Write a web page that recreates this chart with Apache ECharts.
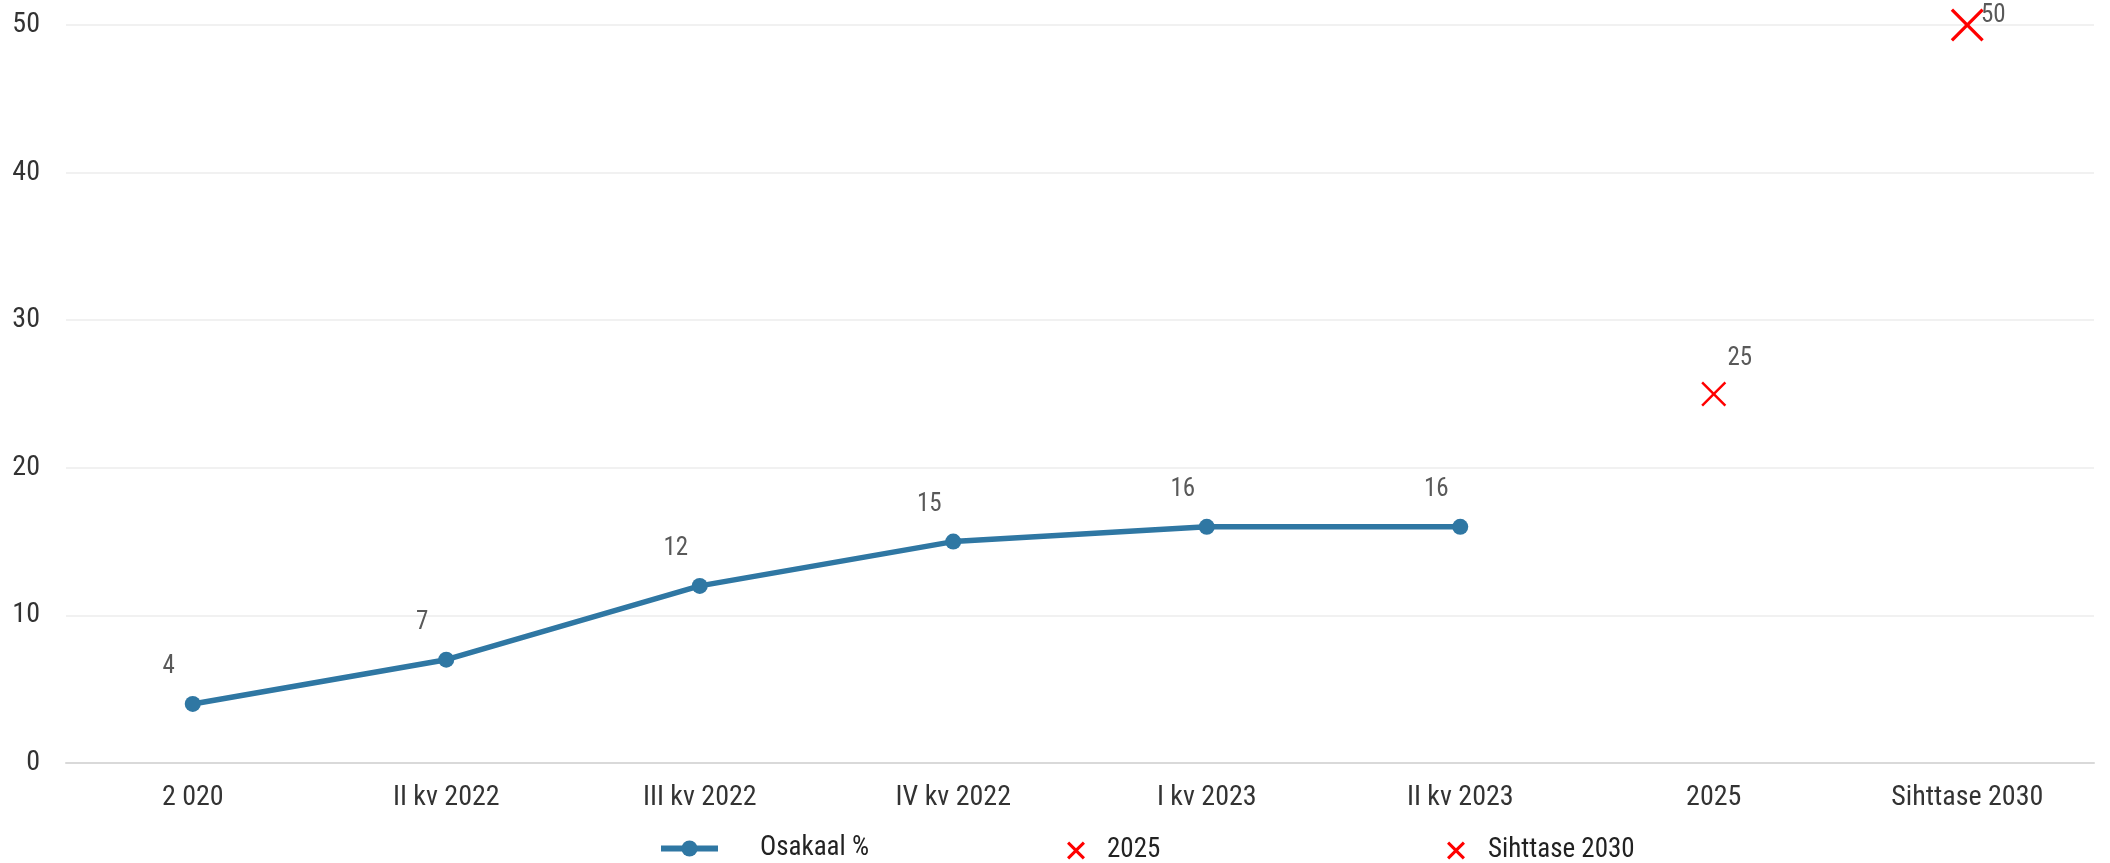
<!DOCTYPE html>
<html>
<head>
<meta charset="utf-8">
<script src="https://cdn.jsdelivr.net/npm/echarts@6/dist/echarts.min.js"></script>
<style>
  html, body { margin: 0; padding: 0; background: #fff; }
  #chart { width: 2110px; height: 863px; }
</style>
</head>
<body>
<div id="chart"></div>
<script>
const categories = ['2 020', 'II kv 2022', 'III kv 2022', 'IV kv 2022', 'I kv 2023', 'II kv 2023', '2025', 'Sihttase 2030'];
const osakaal = [4, 7, 12, 15, 16, 16, null, null];
const target2025 = [null, null, null, null, null, null, 25, null];
const target2030 = [null, null, null, null, null, null, null, 50];
const yTicks = { min: 0, max: 50, interval: 10 };

const FONT = "'Roboto Condensed', 'Liberation Sans Narrow', 'DejaVu Sans Condensed', sans-serif";
const BLUE = '#2f77a3';
const RED = '#ff0000';
// filled X shapes (chart marker and bolder legend icon)
const CROSS = 'path://M7,0L50,43L93,0L100,7L57,50L100,93L93,100L50,57L7,100L0,93L43,50L0,7Z';
const CROSS_BOLD = 'path://M12,0L50,38L88,0L100,12L62,50L100,88L88,100L50,62L12,100L0,88L38,50L0,12Z';

const chart = echarts.init(document.getElementById('chart'));

const legendText = (padLeft) => ({ fontFamily: FONT, fontSize: 27, color: '#222', padding: [0, 0, 0, padLeft] });

const option = {
  animation: false,
  textStyle: { fontFamily: FONT },
  grid: { left: 66, right: 16, top: 25, bottom: 100 },
  legend: [
    {
      data: ['Osakaal %'],
      left: 658, top: 835, padding: 0,
      itemWidth: 57, itemHeight: 20,
      lineStyle: { width: 6 },
      textStyle: legendText(37)
    },
    {
      data: ['2025'],
      left: 1067, top: 837, padding: 0,
      icon: CROSS_BOLD,
      itemWidth: 18, itemHeight: 18,
      textStyle: legendText(17)
    },
    {
      data: ['Sihttase 2030'],
      left: 1447, top: 837, padding: 0,
      icon: CROSS_BOLD,
      itemWidth: 18, itemHeight: 18,
      textStyle: legendText(18)
    }
  ],
  xAxis: {
    type: 'category',
    data: categories,
    boundaryGap: true,
    axisLine: { lineStyle: { color: '#d9d9d9', width: 2 } },
    axisTick: { show: false },
    axisLabel: { fontFamily: FONT, fontSize: 28, color: '#333', margin: 21 }
  },
  yAxis: {
    type: 'value',
    min: yTicks.min, max: yTicks.max, interval: yTicks.interval,
    axisLine: { show: false },
    axisTick: { show: false },
    axisLabel: { fontFamily: FONT, fontSize: 28, color: '#333', margin: 26 },
    splitLine: { lineStyle: { color: '#ececec', width: 1.5 } }
  },
  series: [
    {
      name: 'Osakaal %',
      type: 'line',
      data: osakaal,
      symbol: 'circle',
      symbolSize: 16,
      lineStyle: { color: BLUE, width: 5.5 },
      itemStyle: { color: BLUE },
      label: {
        show: true, position: 'inside', offset: [-24, -37],
        fontFamily: FONT, fontSize: 25, color: '#595959'
      }
    },
    {
      name: '2025',
      type: 'scatter',
      data: target2025,
      symbol: CROSS,
      symbolSize: 25,
      itemStyle: { color: RED, opacity: 1 },
      label: {
        show: true, position: 'inside', offset: [26, -35],
        fontFamily: FONT, fontSize: 25, color: '#595959'
      }
    },
    {
      name: 'Sihttase 2030',
      type: 'scatter',
      data: target2030,
      symbol: CROSS,
      symbolSize: 33,
      itemStyle: { color: RED, opacity: 1 },
      label: {
        show: true, position: 'inside', offset: [26, -9],
        fontFamily: FONT, fontSize: 25, color: '#595959'
      }
    }
  ]
};

chart.setOption(option);
</script>
</body>
</html>
